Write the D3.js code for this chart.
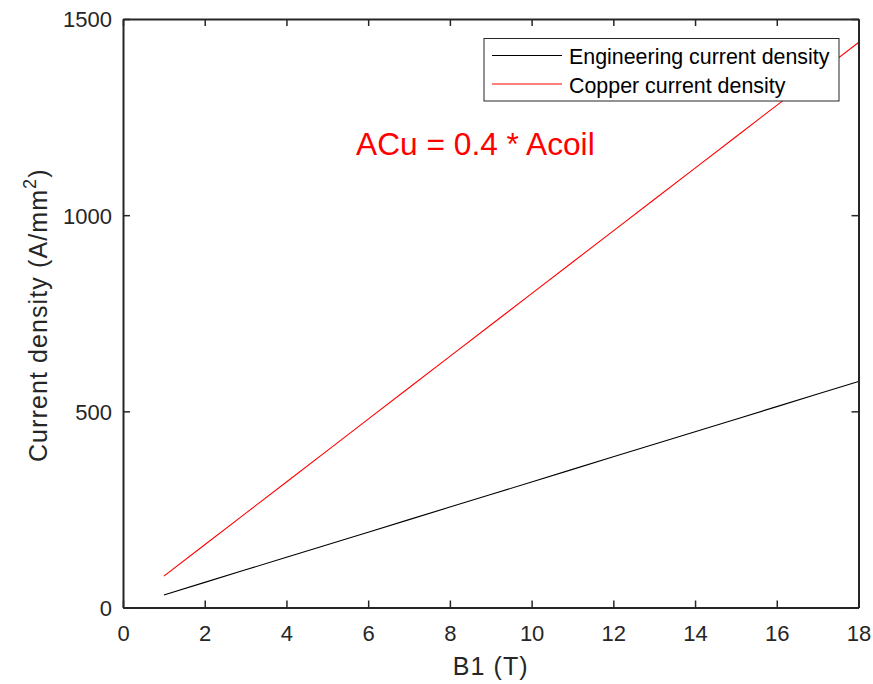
<!DOCTYPE html>
<html><head><meta charset="utf-8">
<script src="https://cdn.jsdelivr.net/npm/d3@7"></script>
<style>body{margin:0;background:#fff}svg{display:block}text{font-family:"Liberation Sans",Arial,sans-serif}</style>
</head><body><svg id="c" width="873" height="684"></svg>
<script>
const B = [1,2,3,4,5,6,7,8,9,10,11,12,13,14,15,16,17,18];
const engJ = [32,64,96,128,160,192,224,256,288,320,352,384,416,448,480,512,544,576];
const cuJ = [80,160,240,320,400,480,560,640,720,800,880,960,1040,1120,1200,1280,1360,1440];
const xTicks = [0,2,4,6,8,10,12,14,16,18];
const yTicks = [0,500,1000,1500];
const seriesNames = ["Engineering current density","Copper current density"];
const seriesColors = ["#000000","#ff0000"];

const svg = d3.select("#c");
const L=123,R=858.5,T=19,Bt=607.5;
const x = d3.scaleLinear().domain([0,18]).range([L,R]);
const y = d3.scaleLinear().domain([0,1500]).range([Bt,T]);
const axCol="#262626";

const line = d3.line().x((d,i)=>x(B[i])).y(d=>y(d));
[engJ,cuJ].forEach((s,k)=>{
  svg.append("path").attr("d",line(s)).attr("fill","none").attr("stroke",seriesColors[k]).attr("stroke-width",1.1);
});

const tl=7, fmt=d3.format("d");
const gx=svg.append("g").attr("transform",`translate(0,${Bt})`).call(d3.axisBottom(x).tickValues(xTicks).tickFormat(fmt).tickSizeInner(-tl).tickSizeOuter(0).tickPadding(18));
const gxt=svg.append("g").attr("transform",`translate(0,${T})`).call(d3.axisTop(x).tickValues(xTicks).tickSizeInner(-tl).tickSizeOuter(0).tickFormat(""));
const gy=svg.append("g").attr("transform",`translate(${L},0)`).call(d3.axisLeft(y).tickValues(yTicks).tickFormat(fmt).tickSizeInner(-tl).tickSizeOuter(0).tickPadding(11));
const gyr=svg.append("g").attr("transform",`translate(${R},0)`).call(d3.axisRight(y).tickValues(yTicks).tickSizeInner(-tl).tickSizeOuter(0).tickFormat(""));
[gx,gxt,gy,gyr].forEach(g=>{
  g.attr("font-size",null).attr("font-family",null);
  g.selectAll("path").attr("stroke",axCol).attr("stroke-width",2);
  g.selectAll("line").attr("stroke",axCol).attr("stroke-width",1.5);
  g.selectAll("text").attr("fill",axCol).style("font-size","22px");
});
gx.selectAll(".tick text").attr("dy","0.72em");
gy.selectAll(".tick text").attr("dy","0.36em");

svg.append("text").attr("x",(L+R)/2).attr("y",675).attr("text-anchor","middle").attr("fill",axCol).style("font-size","25px").style("letter-spacing","1.1px").text("B1 (T)");
const yl=svg.append("text").attr("transform",`translate(47,${(T+Bt)/2+2}) rotate(-90)`).attr("text-anchor","middle").attr("fill",axCol).style("font-size","25px").style("letter-spacing","1.1px");
yl.append("tspan").text("Current density (A/mm");
yl.append("tspan").attr("dy",-11).style("font-size","18px").text("2");
yl.append("tspan").attr("dy",11).text(")");

svg.append("text").attr("x",356).attr("y",155).attr("fill","#ff0000").style("font-size","31.7px").text("ACu = 0.4 * Acoil");

const lg=svg.append("g");
lg.append("rect").attr("x",484).attr("y",38.5).attr("width",355).attr("height",62.5).attr("fill","#fff").attr("stroke",axCol).attr("stroke-width",1);
seriesNames.forEach((n,i)=>{
  const yy=55.5+i*28.5;
  lg.append("line").attr("x1",492).attr("x2",562).attr("y1",yy).attr("y2",yy).attr("stroke",seriesColors[i]).attr("stroke-width",1.1);
  lg.append("text").attr("x",569).attr("y",yy+8.5).attr("fill","#000").style("font-size","21.4px").text(n);
});
</script></body></html>
